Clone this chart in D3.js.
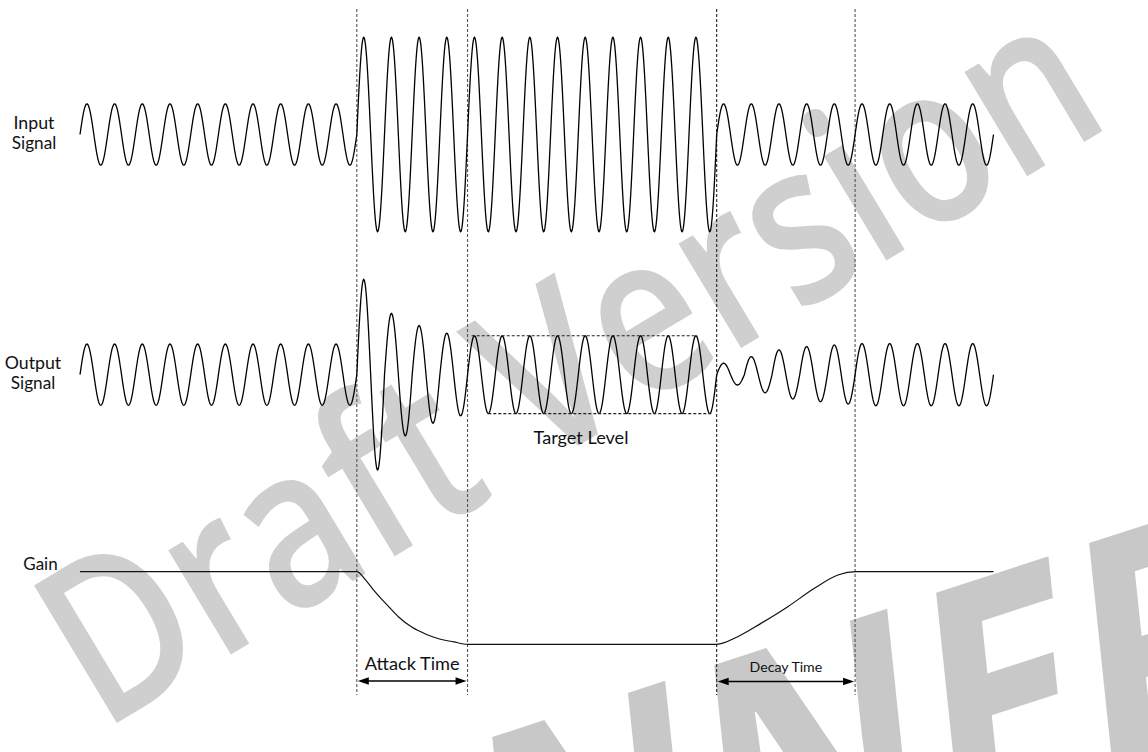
<!DOCTYPE html>
<html>
<head>
<meta charset="utf-8">
<script src="https://cdn.jsdelivr.net/npm/d3@7"></script>
<style>
  html, body { margin: 0; padding: 0; background: #fff; }
  svg { display: block; }
  text { font-family: "Lato", "Open Sans", sans-serif; fill: #111; }
</style>
</head>
<body>
<svg id="chart" width="1148" height="752"></svg>
<script>
// ---------------- data ----------------
// time measured in signal cycles
const segmentBounds = [0, 10, 14, 23, 28, 33];
const inputLevels   = [0.315, 1.0, 1.0, 0.315, 0.315];      // input amplitude per segment
const markerTimes   = [10, 14, 23, 28];                      // dashed vertical markers

// output amplitude per half cycle in each segment
const outputIdleBefore = 0.315;
const attackHalfAmps   = [0.98, 0.98, 0.63, 0.63, 0.505, 0.50, 0.427, 0.423];
const targetLevel      = 0.40;
const decayHalfAmps    = [0.118, 0.106, 0.186, 0.186, 0.255, 0.25, 0.289, 0.278, 0.306, 0.302];
const outputIdleAfter  = 0.32;

// gain curve
const gainTimes  = [0, 10, 10.3, 10.6, 11.1, 11.5, 12, 12.5, 12.9, 13.5, 14,
                    23, 23.76, 24.6, 25.57, 26.53, 27.38, 28.05, 33];
const gainValues = [1, 1, 0.937, 0.85, 0.724, 0.628, 0.54, 0.483, 0.45, 0.42, 0.40,
                    0.40, 0.463, 0.573, 0.711, 0.863, 0.973, 1.0, 1.0];

// target level box: [start, end] time for top and bottom edges
const targetTop    = [14.15, 22.3];
const targetBottom = [14.75, 22.85];

const rowLabels = [
  { lines: ["Input", "Signal"], row: "in" },
  { lines: ["Output", "Signal"], row: "out" },
  { lines: ["Gain"], row: "gain" }
];
const spanLabels = [
  { text: "Attack Time", from: 10, to: 14 },
  { text: "Decay Time",  from: 23, to: 28 }
];
const watermarkTexts = ["Draft Version", "SCANNER"];

// ---------------- scales ----------------
const svg = d3.select("#chart");
const x = d3.scaleLinear().domain([0, 33]).range([80, 993.5]);
const yIn  = d3.scaleLinear().domain([-1, 1]).range([231.7, 37.3]);
const yOut = d3.scaleLinear().domain([-1, 1]).range([374.7 + 97.2, 374.7 - 97.2]);
const yGain = d3.scaleLinear().domain([0.4, 1]).range([644.3, 571.7]);

// ---------------- watermarks (behind) ----------------
const wm = svg.append("g").attr("class", "watermark");
wm.append("text")
  .attr("transform", "translate(102,732) rotate(-31) scale(0.82,1)")
  .style("font-family", "'Open Sans', sans-serif")
  .style("font-weight", 600)
  .style("font-size", "225px")
  .style("fill", "#cfcfcf")
  .text(watermarkTexts[0]);
wm.append("text")
  .attr("transform", "translate(1270,732) rotate(-18) skewX(-12) scale(0.87,1)")
  .attr("text-anchor", "end")
  .style("font-family", "'Open Sans', sans-serif")
  .style("font-weight", 700)
  .style("font-size", "330px")
  .style("fill", "#c8c8c8")
  .text(watermarkTexts[1]);

// ---------------- build half-cycle amplitude arrays ----------------
function halfAmpsFromLevels(levels) {
  const out = [];
  levels.forEach((lv, i) => {
    const n = (segmentBounds[i + 1] - segmentBounds[i]) * 2;
    for (let k = 0; k < n; k++) out.push(lv);
  });
  return out;
}
const inputHalf = halfAmpsFromLevels(inputLevels);
const outputHalf = [].concat(
  d3.range((segmentBounds[1] - segmentBounds[0]) * 2).map(() => outputIdleBefore),
  attackHalfAmps,
  d3.range((segmentBounds[3] - segmentBounds[2]) * 2).map(() => targetLevel),
  decayHalfAmps,
  d3.range((segmentBounds[5] - segmentBounds[4]) * 2).map(() => outputIdleAfter)
);

function wavePoints(halfAmps) {
  const pts = [];
  const steps = 24;
  halfAmps.forEach((a, k) => {
    for (let s = (k === 0 ? 0 : 1); s <= steps; s++) {
      const t = k / 2 + s / steps / 2;
      pts.push([t, a * Math.sin(2 * Math.PI * t)]);
    }
  });
  return pts;
}

// ---------------- markers ----------------
svg.append("g").selectAll("line").data(markerTimes).join("line")
  .attr("x1", d => x(d)).attr("x2", d => x(d))
  .attr("y1", 9).attr("y2", 695)
  .attr("stroke", (d, i) => i === 2 ? "#222" : "#555").attr("stroke-width", 1.1)
  .attr("stroke-dasharray", "3,2");

// ---------------- signals ----------------
svg.append("path")
  .attr("d", d3.line().x(d => x(d[0])).y(d => yIn(d[1]))(wavePoints(inputHalf)))
  .attr("fill", "none").attr("stroke", "#000").attr("stroke-width", 1.3);

svg.append("path")
  .attr("d", d3.line().x(d => x(d[0])).y(d => yOut(d[1]))(wavePoints(outputHalf)))
  .attr("fill", "none").attr("stroke", "#000").attr("stroke-width", 1.3);

// target level box
svg.append("line")
  .attr("x1", x(targetTop[0])).attr("x2", x(targetTop[1]))
  .attr("y1", yOut(targetLevel)).attr("y2", yOut(targetLevel))
  .attr("stroke", "#222").attr("stroke-width", 1.1).attr("stroke-dasharray", "3,2");
svg.append("line")
  .attr("x1", x(targetBottom[0])).attr("x2", x(targetBottom[1]))
  .attr("y1", yOut(-targetLevel)).attr("y2", yOut(-targetLevel))
  .attr("stroke", "#222").attr("stroke-width", 1.1).attr("stroke-dasharray", "3,2");

// gain
const gainData = gainTimes.map((t, i) => [t, gainValues[i]]);
svg.append("path")
  .attr("d", d3.line().curve(d3.curveMonotoneX).x(d => x(d[0])).y(d => yGain(d[1]))(gainData))
  .attr("fill", "none").attr("stroke", "#111").attr("stroke-width", 1.2);

// ---------------- text helpers ----------------
function fit(sel, width, base) {
  sel.style("font-size", base + "px");
  const w = sel.node().getComputedTextLength();
  sel.style("font-size", (base * width / w).toFixed(2) + "px");
  return sel;
}

// row labels
const labelGeom = {
  in:   { cx: 34, base: [129, 149], widths: [41, 44.5] },
  out:  { cx: 33, base: [368.5, 389], widths: [56.5, 44.5] },
  gain: { cx: 40.5, base: [569.5], widths: [34.4] }
};
rowLabels.forEach(l => {
  const g = labelGeom[l.row];
  l.lines.forEach((s, i) => {
    const t = svg.append("text").attr("x", g.cx).attr("y", g.base[i])
      .attr("text-anchor", "middle").text(s);
    fit(t, g.widths[i], 15);
  });
});

// target level
fit(svg.append("text").attr("x", 581).attr("y", 443.5)
  .attr("text-anchor", "middle").text("Target Level"), 95, 15);

// spans with arrows
const spanGeom = [{ ty: 669.5, w: 95, ay: 681 }, { ty: 671.5, w: 72.7, ay: 681.5 }];
spanLabels.forEach((s, i) => {
  const g = spanGeom[i];
  const x0 = x(s.from), x1 = x(s.to);
  fit(svg.append("text").attr("x", (x0 + x1) / 2).attr("y", g.ty)
    .attr("text-anchor", "middle").text(s.text), g.w, 15);
  svg.append("line").attr("x1", x0 + 6).attr("x2", x1 - 6)
    .attr("y1", g.ay).attr("y2", g.ay).attr("stroke", "#000").attr("stroke-width", 1.3);
  const ah = 11, hw = 3.8;
  svg.append("path")
    .attr("d", `M${x0 + 1},${g.ay} L${x0 + 1 + ah},${g.ay - hw} L${x0 + 1 + ah},${g.ay + hw} Z`)
    .attr("fill", "#000");
  svg.append("path")
    .attr("d", `M${x1 - 1},${g.ay} L${x1 - 1 - ah},${g.ay - hw} L${x1 - 1 - ah},${g.ay + hw} Z`)
    .attr("fill", "#000");
});
</script>
</body>
</html>
